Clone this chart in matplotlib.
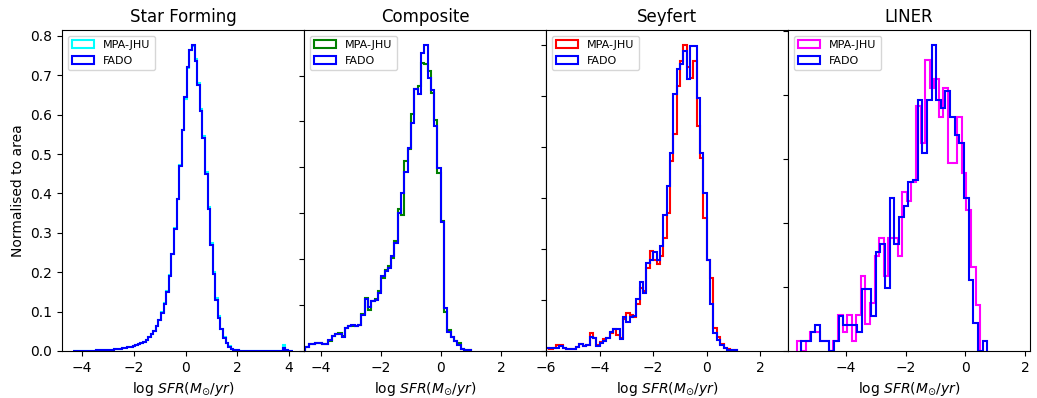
import numpy as np
import matplotlib
matplotlib.use("Agg")
import matplotlib.pyplot as plt

# ---------------- data ----------------
titles = ["Star Forming", "Composite", "Seyfert", "LINER"]
mpa_colors = ["cyan", "green", "red", "magenta"]
fado_color = "blue"

# Star Forming: bins of width 0.1 starting at -4.35
sf_start, sf_width = -4.35, 0.1
sf_fado = [0.0005, 0.0005, 0.0005, 0.0008, 0.0008, 0.001, 0.001, 0.001, 0.0012, 0.0015,
           0.0015, 0.002, 0.002, 0.0025, 0.003, 0.0035, 0.004, 0.005, 0.006, 0.007,
           0.008, 0.010, 0.011, 0.013, 0.015, 0.017, 0.020, 0.024, 0.029, 0.035,
           0.042, 0.051, 0.063, 0.078, 0.097, 0.12, 0.15, 0.19, 0.245, 0.31,
           0.385, 0.47, 0.56, 0.645, 0.72, 0.765, 0.776, 0.735, 0.675, 0.61,
           0.54, 0.45, 0.36, 0.27, 0.195, 0.13, 0.085, 0.055, 0.034, 0.02,
           0.011, 0.006, 0.003, 0.002, 0.001, 0.0003, 0.0003, 0.0003, 0.0003, 0.0003,
           0.0003, 0.0003, 0.0003, 0.0003, 0.0003, 0.0003, 0.0003, 0.0003, 0.0003, 0.0003,
           0.0003, 0.008, 0.002, 0.0005, 0.0003]
sf_mpa = [0.0005, 0.0005, 0.0005, 0.0008, 0.0008, 0.001, 0.001, 0.001, 0.0012, 0.0015,
          0.0015, 0.002, 0.002, 0.0025, 0.003, 0.0035, 0.004, 0.005, 0.006, 0.007,
          0.008, 0.010, 0.011, 0.013, 0.015, 0.017, 0.020, 0.024, 0.029, 0.036,
          0.043, 0.052, 0.064, 0.079, 0.098, 0.121, 0.152, 0.192, 0.247, 0.312,
          0.387, 0.472, 0.562, 0.64, 0.718, 0.763, 0.775, 0.74, 0.68, 0.615,
          0.545, 0.455, 0.365, 0.275, 0.2, 0.134, 0.088, 0.057, 0.035, 0.021,
          0.012, 0.006, 0.003, 0.002, 0.001, 0.0003, 0.0003, 0.0003, 0.0003, 0.0003,
          0.0003, 0.0003, 0.0003, 0.0003, 0.0003, 0.0003, 0.0003, 0.0003, 0.0003, 0.0003,
          0.0003, 0.015, 0.003, 0.0005, 0.0003]

# Composite: bins of width 0.11 starting at -4.51
comp_start, comp_width = -4.51, 0.11
comp_fado = [0.009, 0.015, 0.015, 0.017, 0.017, 0.016, 0.015, 0.023, 0.033, 0.038,
             0.038, 0.031, 0.051, 0.054, 0.057, 0.054, 0.057, 0.078, 0.114, 0.096,
             0.108, 0.112, 0.127, 0.163, 0.175, 0.181, 0.206, 0.235, 0.301, 0.344,
             0.391, 0.442, 0.497, 0.571, 0.559, 0.650, 0.666, 0.595, 0.569, 0.490,
             0.399, 0.282, 0.094, 0.042, 0.031, 0.021, 0.012, 0.004, 0.003, 0.002]
comp_mpa = [0.009, 0.015, 0.016, 0.017, 0.017, 0.016, 0.016, 0.022, 0.032, 0.038,
            0.039, 0.032, 0.050, 0.055, 0.054, 0.055, 0.057, 0.080, 0.116, 0.090,
            0.110, 0.114, 0.130, 0.160, 0.177, 0.185, 0.203, 0.240, 0.310, 0.297,
            0.413, 0.440, 0.516, 0.571, 0.578, 0.628, 0.625, 0.611, 0.563, 0.503,
            0.387, 0.284, 0.086, 0.045, 0.031, 0.022, 0.017, 0.005, 0.003, 0.002]

# Seyfert: bins of width 0.125 starting at -6.0
sey_start, sey_width = -6.0, 0.125
sey_fado = [0.005, 0.005, 0.005, 0.005, 0.009, 0.005, 0.004, 0.003, 0.003, 0.008,
            0.014, 0.009, 0.012, 0.028, 0.026, 0.010, 0.015, 0.019, 0.025, 0.038,
            0.044, 0.044, 0.023, 0.066, 0.057, 0.066, 0.069, 0.101, 0.136, 0.114,
            0.173, 0.179, 0.194, 0.178, 0.205, 0.267, 0.323, 0.387, 0.503, 0.553,
            0.562, 0.588, 0.533, 0.598, 0.598, 0.496, 0.387, 0.310, 0.178, 0.093,
            0.035, 0.022, 0.012, 0.005, 0.002, 0.002, 0.001]
sey_mpa = [0.005, 0.004, 0.005, 0.012, 0.012, 0.005, 0.004, 0.003, 0.004, 0.007,
           0.013, 0.010, 0.012, 0.035, 0.025, 0.012, 0.017, 0.023, 0.025, 0.036,
           0.044, 0.031, 0.025, 0.062, 0.075, 0.070, 0.066, 0.093, 0.124, 0.118,
           0.163, 0.195, 0.178, 0.170, 0.186, 0.221, 0.271, 0.372, 0.426, 0.519,
           0.568, 0.599, 0.557, 0.534, 0.568, 0.440, 0.379, 0.260, 0.178, 0.143,
           0.046, 0.028, 0.014, 0.006, 0.003, 0.002, 0.001]

# LINER: 40 bins each
lin_fado_start, lin_fado_width = -5.5, 0.156
lin_mpa_start, lin_mpa_width = -5.66, 0.154
lin_fado = [0.015, 0.015, 0.029, 0.041, 0.015, 0.015, 0.0, 0.015, 0.054, 0.041,
            0.041, 0.041, 0.029, 0.097, 0.097, 0.054, 0.155, 0.168, 0.098, 0.239,
            0.167, 0.210, 0.226, 0.265, 0.268, 0.393, 0.310, 0.393, 0.478, 0.393,
            0.380, 0.407, 0.366, 0.338, 0.325, 0.239, 0.111, 0.043, 0.0, 0.015]
lin_mpa = [0.015, 0.0, 0.015, 0.029, 0.029, 0.015, 0.015, 0.0, 0.015, 0.057,
           0.030, 0.057, 0.015, 0.057, 0.117, 0.042, 0.075, 0.148, 0.176, 0.117,
           0.176, 0.176, 0.148, 0.249, 0.234, 0.265, 0.383, 0.325, 0.455, 0.412,
           0.426, 0.366, 0.412, 0.294, 0.294, 0.366, 0.278, 0.220, 0.132, 0.072]

xlims = [(-4.78, 4.58), (-4.55, 3.5), (-6.0, 3.03), (-5.95, 2.17)]

# ---------------- plotting ----------------
def edges_of(start, width, n):
    return start + width * np.arange(n + 1)

panels = [
    ((sf_start, sf_width, sf_mpa), (sf_start, sf_width, sf_fado)),
    ((comp_start, comp_width, comp_mpa), (comp_start, comp_width, comp_fado)),
    ((sey_start, sey_width, sey_mpa), (sey_start, sey_width, sey_fado)),
    ((lin_mpa_start, lin_mpa_width, lin_mpa), (lin_fado_start, lin_fado_width, lin_fado)),
]

fig, axes = plt.subplots(1, 4, figsize=(10.37, 3.98), dpi=100)
fig.subplots_adjust(left=0.0598, right=0.9932, top=0.9246, bottom=0.1181, wspace=0)

for i, ax in enumerate(axes):
    (ms, mw, mv), (fs, fw, fv) = panels[i]
    me = edges_of(ms, mw, len(mv))
    fe = edges_of(fs, fw, len(fv))
    ax.hist(0.5 * (me[:-1] + me[1:]), bins=me, weights=mv, histtype="step",
            color=mpa_colors[i], linewidth=1.5, label="MPA-JHU")
    ax.hist(0.5 * (fe[:-1] + fe[1:]), bins=fe, weights=fv, histtype="step",
            color=fado_color, linewidth=1.5, label="FADO")
    ax.set_xlim(*xlims[i])
    ax.set_title(titles[i], fontsize=12)
    ax.set_xlabel(r"log $SFR(M_{\odot}/yr)$", fontsize=10)
    ax.tick_params(labelsize=10)
    ax.legend(loc="upper left", fontsize=8)
    if i > 0:
        ax.tick_params(labelleft=False)

axes[0].set_ylabel("Normalised to area", fontsize=10)

fig.savefig("out.png", dpi=100)
